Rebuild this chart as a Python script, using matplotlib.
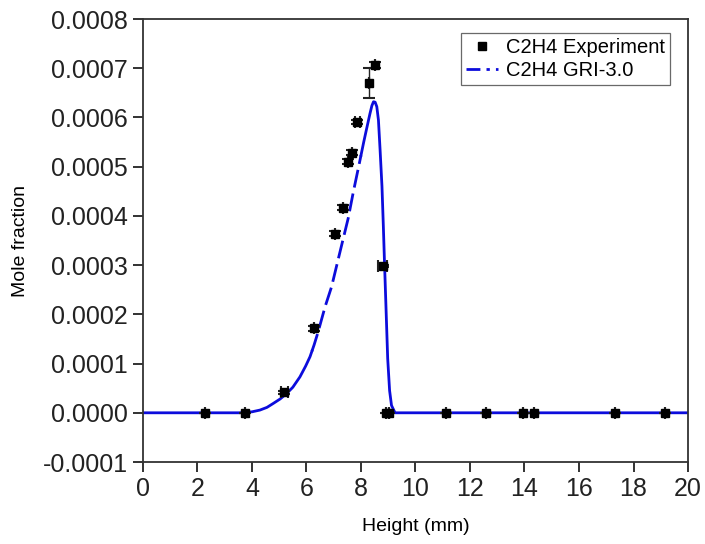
import numpy as np
import matplotlib
matplotlib.use("Agg")
import matplotlib.pyplot as plt
from matplotlib.lines import Line2D

plt.rcParams['font.family'] = ['Liberation Sans', 'DejaVu Sans']

# Experimental C2H4 mole fraction (x: height in mm, y in units of 1e-4)
exp_height = [2.29, 3.76, 5.19, 6.28, 7.06, 7.33, 7.54, 7.66, 7.87, 8.28, 8.52,
              8.79, 8.93, 9.02, 11.11, 12.59, 13.94, 14.35, 17.32, 19.16]
exp_frac = [0.0, 0.0, 0.42, 1.72, 3.64, 4.17, 5.10, 5.28, 5.90, 6.70, 7.07,
            2.98, 0.0, 0.0, 0.0, 0.0, 0.0, 0.0, 0.0, 0.0]
exp_yerr = [0.0, 0.0, 0.03, 0.05, 0.05, 0.05, 0.05, 0.05, 0.04, 0.30, 0.06,
            0.02, 0.0, 0.0, 0.0, 0.0, 0.0, 0.0, 0.0, 0.0]
exp_xerr = [0.0, 0.0, 0.12, 0.0, 0.0, 0.0, 0.0, 0.0, 0.10, 0.0, 0.0,
            0.15, 0.0, 0.0, 0.0, 0.0, 0.0, 0.0, 0.0, 0.0]

# GRI-3.0 simulated profile (y in units of 1e-4)
gri_height = [0.0, 3.0, 3.56, 4.0, 4.29, 4.55, 4.78, 5.03, 5.27, 5.50, 5.76,
              5.97, 6.13, 6.28, 6.43, 6.68, 6.92, 7.23, 7.53, 7.72, 7.94, 8.10,
              8.21, 8.33, 8.40, 8.46, 8.52, 8.58, 8.64, 8.70, 8.77, 8.82, 8.86,
              8.92, 8.98, 9.05, 9.12, 9.25, 20.0]
gri_frac = [0.0, 0.0, 0.0, 0.02, 0.055, 0.11, 0.19, 0.28, 0.39, 0.52, 0.73,
            0.95, 1.14, 1.38, 1.65, 2.15, 2.56, 3.27, 3.95, 4.49, 5.07, 5.50,
            5.78, 6.08, 6.24, 6.32, 6.31, 6.22, 5.95, 5.35, 4.60, 3.80, 3.10,
            2.10, 1.10, 0.45, 0.15, 0.0, 0.0]

scale = 1e-4
blue = '#0c0cdc'

fig = plt.figure(figsize=(7.05, 5.44), dpi=100)
ax = fig.add_axes([0.2028, 0.1507, 0.7731, 0.8143])

gx = np.asarray(gri_height)
gy = np.asarray(gri_frac) * scale

# The simulated curve: solid in the tails, dashed on the steep rise
dash_lo, dash_hi = 6.2, 8.0
lo = gx <= dash_lo
mid = (gx >= dash_lo) & (gx <= dash_hi)
hi = gx >= dash_hi


def segment(mask, a, b):
    xs = list(gx[mask])
    ys = list(gy[mask])
    # extend to the exact boundaries so the pieces join
    for edge in (a, b):
        if edge is not None and edge not in xs:
            xs.append(edge)
            ys.append(np.interp(edge, gx, gy))
    order = np.argsort(xs)
    return np.asarray(xs)[order], np.asarray(ys)[order]


x1, y1 = segment(lo, None, dash_lo)
x2, y2 = segment(mid, dash_lo, dash_hi)
x3, y3 = segment(hi, dash_hi, None)
ax.plot(x1, y1, color=blue, lw=2.0, solid_joinstyle='round', zorder=2)
ax.plot(x2, y2, color=blue, lw=2.0, linestyle=(0, (6.5, 2.2)),
        dash_capstyle='butt', zorder=2)
ax.plot(x3, y3, color=blue, lw=2.0, solid_joinstyle='round', zorder=2)

ax.errorbar(exp_height, np.asarray(exp_frac) * scale,
            yerr=np.asarray(exp_yerr) * scale, xerr=exp_xerr,
            fmt='s', color='black', ms=6.0, elinewidth=1.0, capsize=4.5,
            capthick=1.5, ecolor='#222222', zorder=3)

ax.set_xlim(0, 20)
ax.set_ylim(-0.0001, 0.0008)
ax.set_xticks(np.arange(0, 21, 2))
ax.set_yticks(np.arange(-0.0001, 0.00081, 0.0001))
ax.set_yticklabels([f'{v:.4f}' if abs(v) > 1e-12 else '0.0000'
                    for v in np.arange(-0.0001, 0.00081, 0.0001)])
ax.tick_params(axis='both', direction='out', length=7, width=1.3,
               labelsize=18, colors='#222222', pad=4)
for sp in ax.spines.values():
    sp.set_linewidth(1.3)
    sp.set_color('#333333')

ax.set_xlabel('Height (mm)', fontsize=14, labelpad=12)
ax.set_ylabel('Mole fraction', fontsize=14, labelpad=10)

handles = [
    Line2D([], [], marker='s', color='black', linestyle='none', ms=6.0),
    Line2D([], [], color=blue, lw=2.0, linestyle=(0, (5, 2.2, 1.2, 2.2))),
]
leg = ax.legend(handles, ['C2H4 Experiment', 'C2H4 GRI-3.0'],
                loc='upper right', bbox_to_anchor=(0.967, 0.968),
                borderaxespad=0, fontsize=14.5, frameon=True, fancybox=False,
                edgecolor='#444444', handlelength=1.6, handletextpad=0.4,
                borderpad=0.25, labelspacing=0.2)
leg.get_frame().set_linewidth(0.9)

fig.savefig('out.png', dpi=100)
